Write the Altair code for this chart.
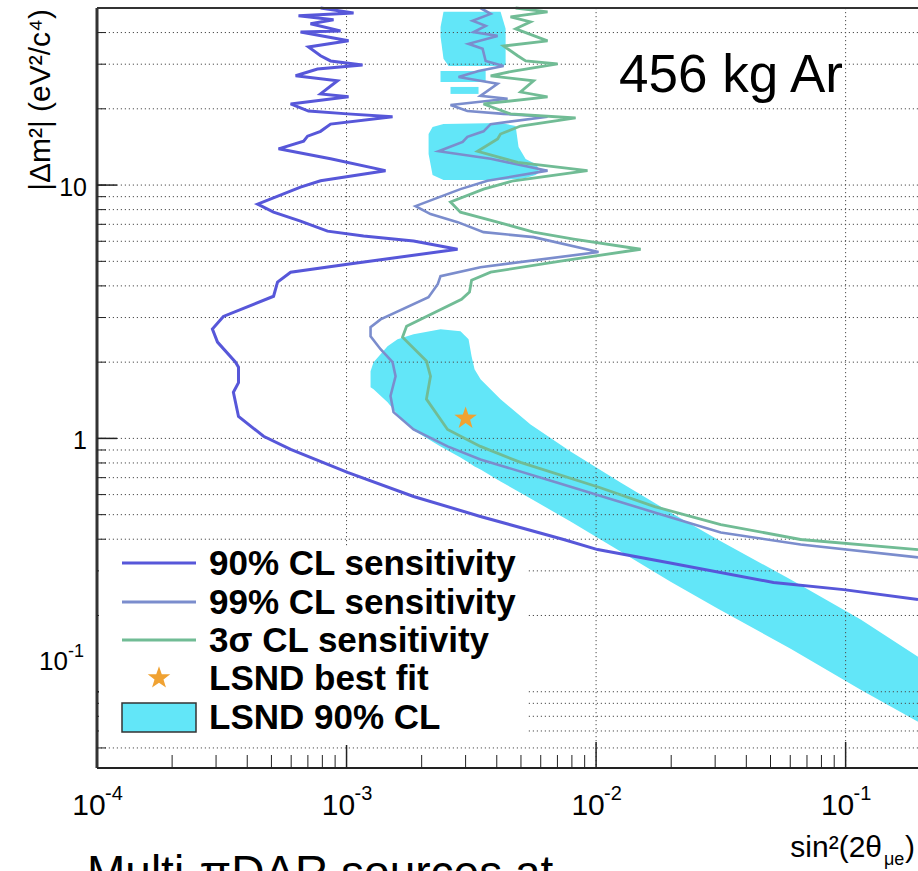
import altair as alt
import pandas as pd

FONT = "Liberation Sans"

# ---------------- data ----------------
# 90% CL sensitivity (sin^2(2theta), dm^2)
s90_x = [7.87e-4, 1.067e-3, 6.42e-4, 8.87e-4, 7.17e-4, 9.46e-4, 6.54e-4, 1.019e-3, 7.04e-4, 7.87e-4,
         8.63e-4, 1.159e-3, 7.65e-4, 6.25e-4, 9.20e-4, 7.87e-4, 1.019e-3, 5.97e-4, 7.04e-4, 1.009e-3,
         1.529e-3, 8.63e-4, 7.87e-4, 6.98e-4, 6.73e-4, 5.34e-4, 8.63e-4, 1.433e-3, 7.87e-4, 6.54e-4,
         4.40e-4, 5.10e-4, 6.54e-4, 8.39e-4, 1.170e-3, 1.856e-3, 2.786e-3, 1.009e-3, 5.97e-4, 5.29e-4,
         5.10e-4, 3.21e-4, 2.90e-4, 3.04e-4, 3.59e-4, 3.69e-4, 3.69e-4, 3.52e-4, 3.69e-4, 4.65e-4,
         5.97e-4, 1.009e-3, 1.856e-3, 3.44e-3, 7.41e-3, 1.014e-2, 1.934e-2, 5.14e-2, 9.82e-2, 0.195]
s90_y = [50, 47.8, 46.6, 44.9, 43.3, 40.6, 40.2, 37.1, 35.1, 32.4,
         30.9, 29.8, 28.7, 27.0, 25.8, 22.9, 22.3, 20.9, 19.6, 19.1,
         18.6, 17.4, 16.3, 15.6, 14.9, 13.9, 12.7, 11.4, 10.4, 9.82,
         8.41, 7.82, 7.21, 6.58, 6.29, 6.01, 5.58, 4.87, 4.53, 4.14,
         3.64, 3.03, 2.70, 2.40, 2.00, 1.91, 1.66, 1.52, 1.22, 1.02,
         0.905, 0.734, 0.590, 0.492, 0.399, 0.364, 0.324, 0.270, 0.253, 0.231]

# 99% CL sensitivity
s99_x = [3.44e-3, 3.78e-3, 3.20e-3, 3.61e-3, 3.23e-3, 4.03e-3, 3.08e-3, 3.51e-3, 3.61e-3, 4.26e-3,
         3.38e-3, 2.81e-3, 4.03e-3, 3.44e-3, 4.42e-3, 2.61e-3, 3.05e-3, 4.26e-3, 6.39e-3, 3.78e-3,
         3.54e-3, 3.05e-3, 2.92e-3, 2.34e-3, 3.78e-3, 6.39e-3, 3.67e-3, 2.86e-3, 1.89e-3, 2.17e-3,
         2.79e-3, 3.54e-3, 5.62e-3, 1.023e-2, 3.44e-3, 2.38e-3, 2.32e-3, 2.13e-3, 1.369e-3, 1.248e-3,
         1.248e-3, 1.369e-3, 1.529e-3, 1.572e-3, 1.50e-3, 1.543e-3, 1.856e-3, 2.54e-3, 3.44e-3, 6.95e-3,
         1.716e-2, 3.16e-2, 6.60e-2, 0.195]
s99_y = [50, 47.4, 44.5, 42.5, 40.2, 38.8, 36.1, 34.5, 30.9, 29.5,
         28.2, 26.7, 25.1, 22.5, 21.9, 20.7, 19.6, 19.1, 18.6, 17.4,
         16.3, 15.5, 14.8, 13.6, 12.7, 11.4, 10.4, 9.64, 8.26, 7.68,
         7.14, 6.52, 6.23, 5.44, 4.74, 4.37, 4.06, 3.61, 2.95, 2.75,
         2.53, 2.25, 2.00, 1.76, 1.47, 1.27, 1.085, 0.930, 0.826, 0.670,
         0.510, 0.425, 0.381, 0.339]

# 3 sigma CL sensitivity
s3s_x = [4.76e-3, 6.39e-3, 4.54e-3, 5.46e-3, 4.76e-3, 6.39e-3, 4.26e-3, 4.85e-3, 5.22e-3, 7.01e-3,
         4.67e-3, 3.78e-3, 5.62e-3, 4.98e-3, 6.39e-3, 3.54e-3, 4.54e-3, 8.28e-3, 4.98e-3, 4.14e-3,
         4.03e-3, 3.35e-3, 4.85e-3, 9.24e-3, 4.67e-3, 3.54e-3, 2.61e-3, 2.86e-3, 4.03e-3, 5.62e-3,
         8.13e-3, 1.509e-2, 7.21e-3, 3.78e-3, 3.17e-3, 3.11e-3, 2.89e-3, 1.74e-3, 1.676e-3, 2.09e-3,
         2.17e-3, 2.09e-3, 2.54e-3, 3.44e-3, 4.98e-3, 1.033e-2, 1.716e-2, 3.16e-2, 6.60e-2, 0.195]
s3s_y = [50, 48.3, 46.1, 44.1, 41.4, 37.1, 35.4, 32.4, 30.9, 30.1,
         28.2, 27.0, 25.8, 23.3, 22.3, 20.9, 19.1, 18.4, 17.1, 15.9,
         15.2, 13.6, 12.3, 11.4, 10.4, 9.64, 8.57, 7.82, 7.14, 6.52,
         6.12, 5.58, 5.01, 4.53, 4.21, 3.78, 3.54, 2.77, 2.51, 2.02,
         1.76, 1.43, 1.085, 0.930, 0.804, 0.640, 0.538, 0.457, 0.399, 0.364]

# LSND 90% CL allowed regions: x with lower / upper dm^2 edge
band_x = [1.248e-3, 1.283e-3, 1.460e-3, 1.601e-3, 1.856e-3, 2.381e-3, 2.862e-3, 3.083e-3, 3.170e-3,
          3.258e-3, 3.444e-3, 4.142e-3, 5.463e-3, 7.90e-3, 1.253e-2, 1.989e-2, 3.069e-2, 6.02e-2,
          0.1149, 0.195]
band_lo = [1.591, 1.562, 1.388, 1.244, 1.076, 0.930, 0.841, 0.804, 0.789,
           0.775, 0.754, 0.676, 0.579, 0.470, 0.358, 0.272, 0.2129, 0.1479,
           0.1018, 0.0761]
band_hi = [1.840, 1.998, 2.310, 2.462, 2.577, 2.697, 2.648, 2.462, 2.110,
           1.874, 1.711, 1.426, 1.136, 0.888, 0.670, 0.510, 0.399, 0.2772,
           0.193, 0.1375]
mid_x = [2.132e-3, 2.212e-3, 2.447e-3, 4.142e-3, 4.76e-3, 4.89e-3, 5.22e-3, 5.72e-3, 5.88e-3]
mid_lo = [13.26, 10.95, 10.46, 10.46, 10.56, 10.56, 10.66, 10.95, 11.15]
mid_hi = [15.91, 16.95, 17.42, 17.58, 17.11, 14.13, 12.67, 12.11, 11.67]
top_x = [2.381e-3, 2.447e-3, 2.564e-3, 4.142e-3, 4.34e-3]
top_lo = [38.5, 31.5, 29.5, 29.5, 29.8]
top_hi = [42.1, 48.3, 48.3, 48.3, 41.4]
strip1_x = [2.38e-3, 3.61e-3]
strip1_lo = [25.5, 25.5]
strip1_hi = [28.2, 28.2]
strip2_x = [2.61e-3, 3.38e-3]
strip2_lo = [22.9, 22.9]
strip2_hi = [24.4, 24.4]

best_fit_x = [3.0e-3]
best_fit_y = [1.2]

x_major = [1e-4, 1e-3, 1e-2, 1e-1]
x_label_base = ["10", "10", "10", "10"]
x_label_exp = ["-4", "-3", "-2", "-1"]
x_grid = [1e-3, 1e-2, 1e-1]
x_minor = [2e-4, 3e-4, 4e-4, 5e-4, 6e-4, 7e-4, 8e-4, 9e-4,
           2e-3, 3e-3, 4e-3, 5e-3, 6e-3, 7e-3, 8e-3, 9e-3,
           2e-2, 3e-2, 4e-2, 5e-2, 6e-2, 7e-2, 8e-2, 9e-2]
y_major = [0.1, 1, 10]
y_label_plain = [1, 10]
y_label_plain_text = ["1", "10"]
y_label_pow = [0.1]
y_label_pow_base = ["10"]
y_label_pow_exp = ["-1"]
y_grid = [0.06, 0.07, 0.08, 0.09, 0.1, 0.2, 0.3, 0.4, 0.5, 0.6, 0.7, 0.8, 0.9,
          1, 2, 3, 4, 5, 6, 7, 8, 9, 10, 20, 30, 40]

legend_labels = ["90% CL sensitivity", "99% CL sensitivity", "3σ CL sensitivity",
                 "LSND best fit", "LSND 90% CL"]

C90, C99, C3S = "#5757d9", "#7b8dcd", "#71bc95"
CYAN, STAR = "#62e6f8", "#f0a232"
STAR_PATH = ("M0,-1L0.235,-0.324L0.951,-0.309L0.38,0.124L0.588,0.809L0,0.4"
             "L-0.588,0.809L-0.38,0.124L-0.951,-0.309L-0.235,-0.324Z")

W, H = 821, 760
xs = alt.Scale(type="log", domain=[1e-4, 0.195], nice=False)
ys = alt.Scale(type="log", domain=[0.05, 50], nice=False)

one = pd.DataFrame({"a": [0]})


def X():
    return alt.X("x:Q", scale=xs, axis=None)


def Y():
    return alt.Y("y:Q", scale=ys, axis=None)


def curve_df(xv, yv):
    return pd.DataFrame({"x": xv, "y": yv, "i": list(range(len(xv)))})


parts = []
for k, (px, lo, hi) in enumerate([(band_x, band_lo, band_hi), (mid_x, mid_lo, mid_hi),
                                  (top_x, top_lo, top_hi), (strip1_x, strip1_lo, strip1_hi),
                                  (strip2_x, strip2_lo, strip2_hi)]):
    parts.append(pd.DataFrame({"x": px, "y": lo, "y2": hi, "part": k}))
area_df = pd.concat(parts, ignore_index=True)

cyan = alt.Chart(area_df).mark_area(color=CYAN, opacity=1, interpolate="linear").encode(
    x=X(), y=alt.Y("y:Q", scale=ys, axis=None, stack=None), y2="y2:Q", detail="part:N")

hgrid = alt.Chart(pd.DataFrame({"y": y_grid})).mark_rule(
    color="#4d4d4d", strokeDash=[1.2, 2.8], strokeWidth=1).encode(y=Y())
vgrid = alt.Chart(pd.DataFrame({"x": x_major})).mark_rule(
    color="#4d4d4d", strokeDash=[1.2, 2.8], strokeWidth=1).encode(x=X())

box456 = alt.Chart(one).mark_rect(color="white").encode(
    x=alt.value(500), x2=alt.value(747), y=alt.value(28), y2=alt.value(99))

l90 = alt.Chart(curve_df(s90_x, s90_y)).mark_line(color=C90, strokeWidth=3).encode(
    x=X(), y=Y(), order="i:Q")
l99 = alt.Chart(curve_df(s99_x, s99_y)).mark_line(color=C99, strokeWidth=2.6).encode(
    x=X(), y=Y(), order="i:Q")
l3s = alt.Chart(curve_df(s3s_x, s3s_y)).mark_line(color=C3S, strokeWidth=2.8).encode(
    x=X(), y=Y(), order="i:Q")

star = alt.Chart(pd.DataFrame({"x": best_fit_x, "y": best_fit_y})).mark_point(
    shape=STAR_PATH, filled=True, size=560, color=STAR, opacity=1).encode(x=X(), y=Y())

# frame and inside ticks
frame_left = alt.Chart(one).mark_rule(color="#333333", strokeWidth=3).encode(
    x=alt.value(0), y=alt.value(0), y2=alt.value(H))
frame_bottom = alt.Chart(one).mark_rule(color="#222222", strokeWidth=2).encode(
    y=alt.value(H), x=alt.value(0), x2=alt.value(W))
frame_top = alt.Chart(one).mark_rule(color="#333333", strokeWidth=2).encode(
    y=alt.value(0), x=alt.value(0), x2=alt.value(W))
xt_minor = alt.Chart(pd.DataFrame({"x": x_minor})).mark_rule(color="#222222", strokeWidth=1).encode(
    x=X(), y=alt.value(H - 13), y2=alt.value(H))
xt_major = alt.Chart(pd.DataFrame({"x": x_grid})).mark_rule(color="#222222", strokeWidth=1.5).encode(
    x=X(), y=alt.value(H - 26), y2=alt.value(H))
yt_minor = alt.Chart(pd.DataFrame({"y": y_grid})).mark_rule(color="#222222", strokeWidth=1).encode(
    y=Y(), x=alt.value(0), x2=alt.value(9))
yt_major = alt.Chart(pd.DataFrame({"y": y_major})).mark_rule(color="#222222", strokeWidth=1.5).encode(
    y=Y(), x=alt.value(0), x2=alt.value(20))

# tick labels as text through the scales (ROOT-style 10^n)
xlab_base = alt.Chart(pd.DataFrame({"x": x_major, "t": x_label_base})).mark_text(
    font=FONT, fontSize=30, align="center", baseline="alphabetic", color="black", dx=-8).encode(
    x=X(), y=alt.value(H + 47), text="t:N")
xlab_exp = alt.Chart(pd.DataFrame({"x": x_major, "t": x_label_exp})).mark_text(
    font=FONT, fontSize=20, align="left", baseline="alphabetic", color="black", dx=8).encode(
    x=X(), y=alt.value(H + 32), text="t:N")
ylab_plain = alt.Chart(pd.DataFrame({"y": y_label_plain, "t": y_label_plain_text})).mark_text(
    font=FONT, fontSize=25, align="right", baseline="middle", color="black", dy=3).encode(
    y=Y(), x=alt.value(-10), text="t:N")
ylab_pow_base = alt.Chart(pd.DataFrame({"y": y_label_pow, "t": y_label_pow_base})).mark_text(
    font=FONT, fontSize=26, align="right", baseline="middle", color="black", dy=-30).encode(
    y=Y(), x=alt.value(-29), text="t:N")
ylab_pow_exp = alt.Chart(pd.DataFrame({"y": y_label_pow, "t": y_label_pow_exp})).mark_text(
    font=FONT, fontSize=18, align="left", baseline="alphabetic", color="black", dy=-35).encode(
    y=Y(), x=alt.value(-29), text="t:N")
ytitle = alt.Chart(one).mark_text(
    text="|Δm²| (eV²/c⁴)", font=FONT, fontSize=30, angle=270, align="right",
    baseline="alphabetic", color="black").encode(x=alt.value(-47), y=alt.value(1))

# legend
leg_box = alt.Chart(one).mark_rect(color="white").encode(
    x=alt.value(2), x2=alt.value(431), y=alt.value(538), y2=alt.value(737))
rows_y = [555, 594, 632, 670, 709]
leg_layers = [leg_box]
for col, yy in zip([C90, C99, C3S], rows_y[:3]):
    leg_layers.append(alt.Chart(one).mark_rule(color=col, strokeWidth=3).encode(
        x=alt.value(25), x2=alt.value(99), y=alt.value(yy)))
leg_layers.append(alt.Chart(one).mark_point(shape=STAR_PATH, filled=True, size=560, color=STAR,
                                            opacity=1).encode(
    x=alt.value(62), y=alt.value(rows_y[3])))
leg_layers.append(alt.Chart(one).mark_rect(fill=CYAN, stroke="#333333", strokeWidth=1.5).encode(
    x=alt.value(25), x2=alt.value(99), y=alt.value(695), y2=alt.value(724)))
for lab, yy in zip(legend_labels, rows_y):
    leg_layers.append(alt.Chart(one).mark_text(
        text=lab, font=FONT, fontSize=35, fontWeight="bold", align="left", baseline="middle",
        color="black").encode(x=alt.value(112), y=alt.value(yy + 1)))

# texts
t456 = alt.Chart(one).mark_text(text="456 kg Ar", font=FONT, fontSize=53, align="left",
                                baseline="alphabetic", color="black").encode(
    x=alt.value(522), y=alt.value(84))
xt1 = alt.Chart(one).mark_text(text="sin²(2θ", font=FONT, fontSize=30, align="right",
                               baseline="alphabetic", color="black").encode(
    x=alt.value(785), y=alt.value(849))
xt2 = alt.Chart(one).mark_text(text="μe", font=FONT, fontSize=18, align="left",
                               baseline="alphabetic", color="black").encode(
    x=alt.value(787), y=alt.value(857))
xt3 = alt.Chart(one).mark_text(text=")", font=FONT, fontSize=30, align="left",
                               baseline="alphabetic", color="black").encode(
    x=alt.value(808), y=alt.value(849))
multi = alt.Chart(one).mark_text(text="Multi-πDAR sources at", font=FONT, fontSize=46,
                                 align="left", baseline="alphabetic", color="black").encode(
    x=alt.value(-10), y=alt.value(880))

chart = alt.layer(
    cyan, hgrid, vgrid, box456, l90, l99, l3s, star,
    frame_left, frame_bottom, frame_top, xt_minor, xt_major, yt_minor, yt_major,
    xlab_base, xlab_exp, ylab_plain, ylab_pow_base, ylab_pow_exp, ytitle,
    *leg_layers, t456, xt1, xt2, xt3, multi
).properties(
    width=W, height=H,
    padding={"left": 97, "top": 8, "right": 0, "bottom": 103},
    autosize=alt.AutoSizeParams(type="none"),
    background="white",
).configure_view(stroke=None)

chart.save("out.html", embed_options={"renderer": "svg", "actions": False})
